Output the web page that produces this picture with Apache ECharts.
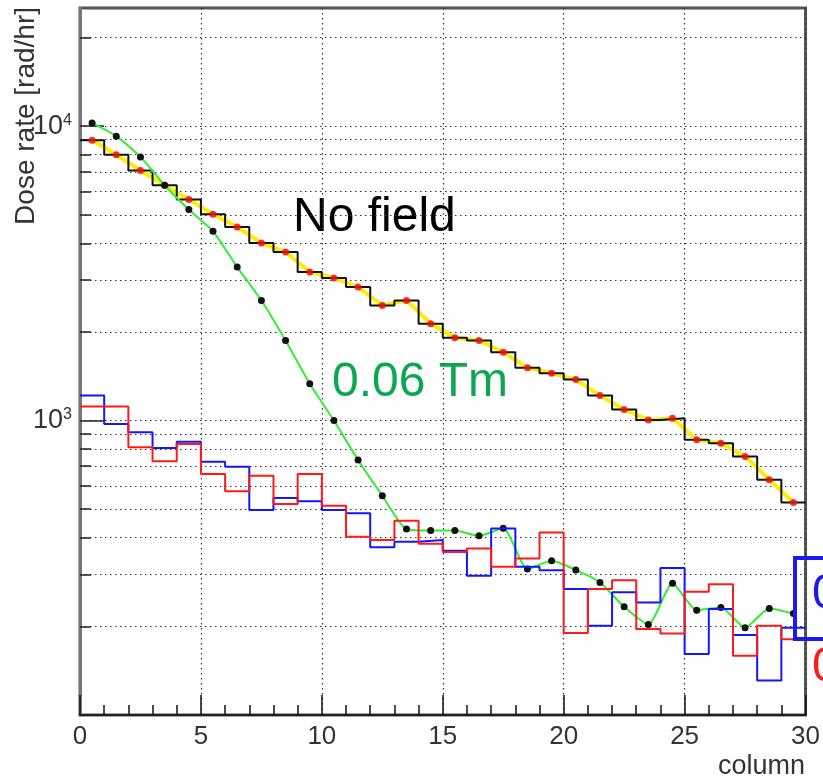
<!DOCTYPE html>
<html>
<head>
<meta charset="utf-8">
<script src="https://cdn.jsdelivr.net/npm/echarts@6/dist/echarts.min.js"></script>
<style>
  html, body { margin: 0; padding: 0; background: #fff; }
  #chart { width: 823px; height: 780px; }
</style>
</head>
<body>
<div id="chart"></div>
<script>
// dose rate per column bin (rad/hr)
const noField = [8960, 8000, 7070, 6300, 5640, 5020, 4545, 4010, 3737, 3195,
	3050, 2841, 2460, 2560, 2133, 1910, 1871, 1708, 1511, 1449,
	1378, 1216, 1090, 1005, 1018, 861, 837, 755, 630, 527];
const field006 = [10260, 9250, 7864, 6300, 5208, 4395, 3322, 2559, 1871, 1333,
	1000, 735, 556, 428, 423, 423, 406, 431, 313, 334,
	311, 282, 233, 203, 280, 227, 232, 198, 230, 221];
const blueHist = [1216, 974, 912, 807, 848, 725, 697, 497, 546, 532,
	497, 484, 371, 388, 393, 361, 297, 430, 319, 310,
	268, 201, 261, 241, 316, 161, 229, 187, 131, 198];
const redHist = [1116, 1116, 811, 727, 833, 659, 575, 650, 521, 659,
	514, 403, 393, 457, 382, 358, 368, 319, 340, 417,
	190, 268, 287, 196, 189, 262, 278, 159, 201, 181];

const xTicks = [0, 5, 10, 15, 20, 25, 30];
const yMajor = [1000, 10000];
const yMinor = [200, 300, 400, 500, 600, 700, 800, 900,
	2000, 3000, 4000, 5000, 6000, 7000, 8000, 9000, 20000];

const font = 'Liberation Sans, Arial, Helvetica, sans-serif';

// histogram outline: left edge of every bin plus closing edge
function steps(vals) {
	const d = vals.map((v, i) => [i, v]);
	d.push([vals.length, vals[vals.length - 1]]);
	return d;
}
function centers(vals) {
	return vals.map((v, i) => [i + 0.5, v]);
}

const gridLine = {show: true, lineStyle: {color: '#333', width: 1.2, type: [1.5, 3.5]}};

const chart = echarts.init(document.getElementById('chart'));
chart.setOption({
	animation: false,
	backgroundColor: '#fff',
	grid: {
		show: true,
		left: 80, top: 8, right: 17, bottom: 65,
		borderColor: '#555',
		borderWidth: 3,
	},
	xAxis: {
		type: 'value',
		min: 0, max: 30, interval: 5,
		axisLine: {lineStyle: {color: '#111', width: 1.5}},
		axisTick: {inside: true, length: 20, lineStyle: {color: '#111', width: 1.5}},
		minorTick: {show: true, splitNumber: 5, length: 10, lineStyle: {color: '#111', width: 1.5}},
		axisLabel: {
			margin: 9,
			fontSize: 26,
			color: '#333',
			fontFamily: font,
			customValues: xTicks,
		},
		splitLine: gridLine,
	},
	yAxis: [
		{
			type: 'log',
			logBase: 10,
			min: 100, max: 25200,
			axisLine: {show: true, lineStyle: {color: '#777', width: 3}},
			axisTick: {inside: true, length: 24, customValues: yMajor, lineStyle: {color: '#222', width: 1.5}},
			axisLabel: {
				margin: 8,
				customValues: yMajor,
				formatter: v => '{a|10}{b|' + Math.round(Math.log10(v)) + '}',
				rich: {
					a: {fontSize: 27, color: '#333', fontFamily: font},
					b: {fontSize: 16, color: '#333', fontFamily: font, verticalAlign: 'top', padding: [0, 0, 12, 0]},
				},
			},
			splitLine: gridLine,
		},
		{
			type: 'log',
			logBase: 10,
			min: 100, max: 25200,
			position: 'left',
			axisLine: {show: false},
			axisTick: {inside: true, length: 11, customValues: yMinor, lineStyle: {color: '#222', width: 1.5}},
			axisLabel: {show: false},
			splitLine: gridLine,
		},
	],
	series: [
		{
			type: 'line',
			data: centers(noField),
			showSymbol: false,
			lineStyle: {color: '#ffee00', width: 4},
			z: 2,
		},
		{
			type: 'line',
			data: steps(noField),
			step: 'end',
			showSymbol: false,
			lineStyle: {color: '#111', width: 2},
			z: 3,
		},
		{
			type: 'scatter',
			data: centers(noField),
			symbolSize: 7,
			itemStyle: {color: '#ee1111', opacity: 0.85},
			z: 4,
		},
		{
			type: 'line',
			data: centers(field006),
			smooth: 0.2,
			symbol: 'circle',
			symbolSize: 7,
			itemStyle: {color: '#111'},
			lineStyle: {color: '#33ee33', width: 2},
			z: 5,
		},
		{
			type: 'line',
			data: steps(blueHist),
			step: 'end',
			showSymbol: false,
			lineStyle: {color: '#1515ff', width: 2},
			z: 6,
		},
		{
			type: 'line',
			data: steps(redHist),
			step: 'end',
			showSymbol: false,
			lineStyle: {color: '#ff1a1a', width: 2},
			z: 7,
		},
	],
	graphic: [
		{
			type: 'text', x: 12, y: 7, rotation: Math.PI / 2,
			style: {text: 'Dose rate [rad/hr]', font: '28px ' + font, fill: '#333', align: 'right', verticalAlign: 'top'},
		},
		{
			type: 'text', right: 18, top: 753,
			style: {text: 'column', font: '27px ' + font, fill: '#333'},
		},
		{
			type: 'text', x: 293, y: 194,
			style: {text: 'No field', font: '48px ' + font, fill: '#000', verticalAlign: 'top'},
		},
		{
			type: 'text', x: 332, y: 359,
			style: {text: '0.06 Tm', font: '48px ' + font, fill: '#0aa84f', verticalAlign: 'top'},
		},
		{
			type: 'rect', shape: {x: 795, y: 558, width: 40, height: 81},
			style: {fill: 'none', stroke: '#1a1aee', lineWidth: 4},
			z: 100,
		},
		{
			type: 'text', x: 812, y: 571,
			style: {text: '0', font: '48px ' + font, fill: '#1a1aee', verticalAlign: 'top'},
			z: 100,
		},
		{
			type: 'text', x: 812, y: 644,
			style: {text: '0', font: '48px ' + font, fill: '#ff1a1a', verticalAlign: 'top'},
			z: 100,
		},
	],
});
</script>
</body>
</html>
